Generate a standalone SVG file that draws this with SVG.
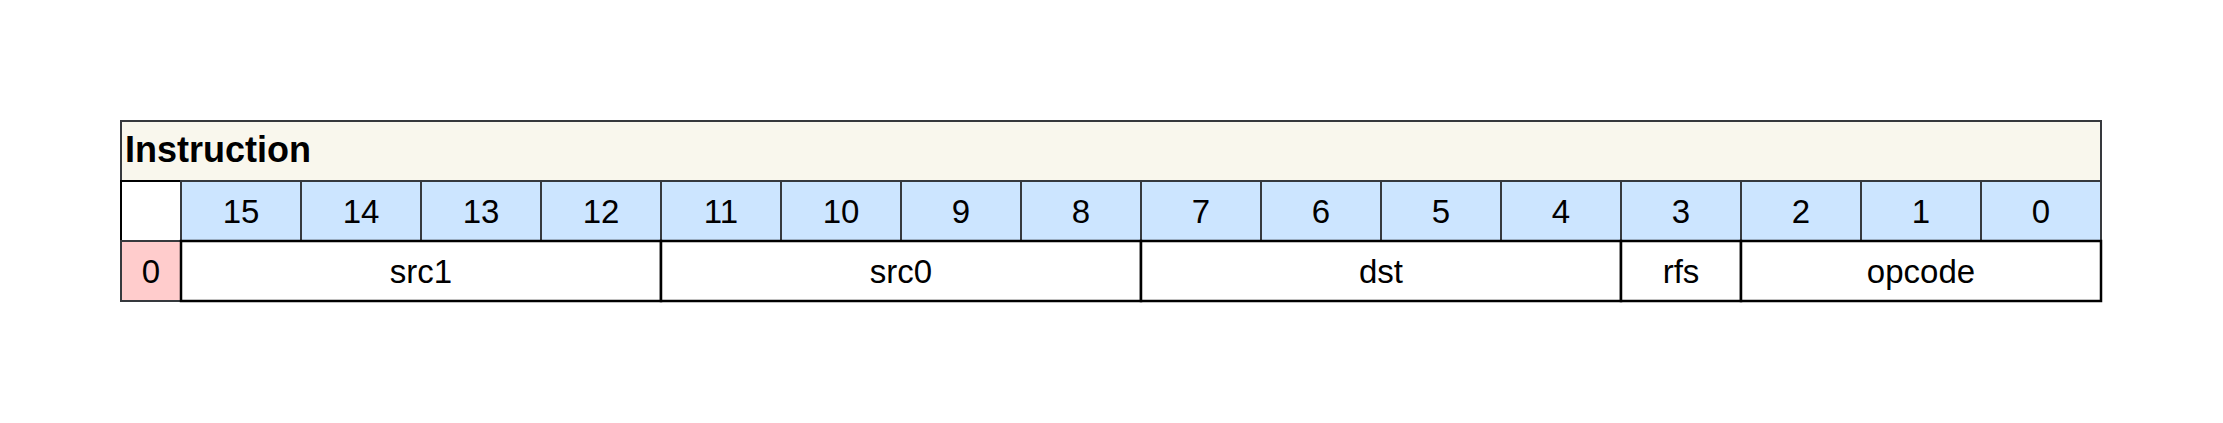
<svg xmlns="http://www.w3.org/2000/svg" width="2223" height="423" viewBox="0 0 2223 423">
<style>
.hdr{fill:#f9f7ed;stroke:#36393d;stroke-width:2}
.bit{fill:#cce5ff;stroke:#36393d;stroke-width:2}
.blank{fill:#ffffff;stroke:#000000;stroke-width:2}
.pink{fill:#ffcccc;stroke:#36393d;stroke-width:2}
.fld{fill:#ffffff;stroke:#000000;stroke-width:2.5}
text{font-family:"Liberation Sans",Arial,sans-serif;font-size:33px;fill:#000;text-anchor:middle}
.title{font-weight:bold;font-size:36px;text-anchor:start}
</style>
<rect width="2223" height="423" fill="#ffffff"/>
<g id="header">
<rect class="hdr" x="121" y="121" width="1980" height="60"/>
<text class="title" x="125" y="162">Instruction</text>
</g>
<g id="blank"><rect class="blank" x="121" y="181" width="60" height="60"/></g>
<g id="bits">
<g id="bit15"><rect class="bit" x="181" y="181" width="120" height="60"/><text x="241" y="222.5">15</text></g>
<g id="bit14"><rect class="bit" x="301" y="181" width="120" height="60"/><text x="361" y="222.5">14</text></g>
<g id="bit13"><rect class="bit" x="421" y="181" width="120" height="60"/><text x="481" y="222.5">13</text></g>
<g id="bit12"><rect class="bit" x="541" y="181" width="120" height="60"/><text x="601" y="222.5">12</text></g>
<g id="bit11"><rect class="bit" x="661" y="181" width="120" height="60"/><text x="721" y="222.5">11</text></g>
<g id="bit10"><rect class="bit" x="781" y="181" width="120" height="60"/><text x="841" y="222.5">10</text></g>
<g id="bit9"><rect class="bit" x="901" y="181" width="120" height="60"/><text x="961" y="222.5">9</text></g>
<g id="bit8"><rect class="bit" x="1021" y="181" width="120" height="60"/><text x="1081" y="222.5">8</text></g>
<g id="bit7"><rect class="bit" x="1141" y="181" width="120" height="60"/><text x="1201" y="222.5">7</text></g>
<g id="bit6"><rect class="bit" x="1261" y="181" width="120" height="60"/><text x="1321" y="222.5">6</text></g>
<g id="bit5"><rect class="bit" x="1381" y="181" width="120" height="60"/><text x="1441" y="222.5">5</text></g>
<g id="bit4"><rect class="bit" x="1501" y="181" width="120" height="60"/><text x="1561" y="222.5">4</text></g>
<g id="bit3"><rect class="bit" x="1621" y="181" width="120" height="60"/><text x="1681" y="222.5">3</text></g>
<g id="bit2"><rect class="bit" x="1741" y="181" width="120" height="60"/><text x="1801" y="222.5">2</text></g>
<g id="bit1"><rect class="bit" x="1861" y="181" width="120" height="60"/><text x="1921" y="222.5">1</text></g>
<g id="bit0"><rect class="bit" x="1981" y="181" width="120" height="60"/><text x="2041" y="222.5">0</text></g>
</g>
<g id="zero"><rect class="pink" x="121" y="241" width="60" height="60"/><text x="151" y="282.5">0</text></g>
<g id="fields">
<g id="src1"><rect class="fld" x="181" y="241" width="480" height="60"/><text x="421" y="282.5">src1</text></g>
<g id="src0"><rect class="fld" x="661" y="241" width="480" height="60"/><text x="901" y="282.5">src0</text></g>
<g id="dst"><rect class="fld" x="1141" y="241" width="480" height="60"/><text x="1381" y="282.5">dst</text></g>
<g id="rfs"><rect class="fld" x="1621" y="241" width="120" height="60"/><text x="1681" y="282.5">rfs</text></g>
<g id="opcode"><rect class="fld" x="1741" y="241" width="360" height="60"/><text x="1921" y="282.5">opcode</text></g>
</g>
<g id="connectors"/>
</svg>
